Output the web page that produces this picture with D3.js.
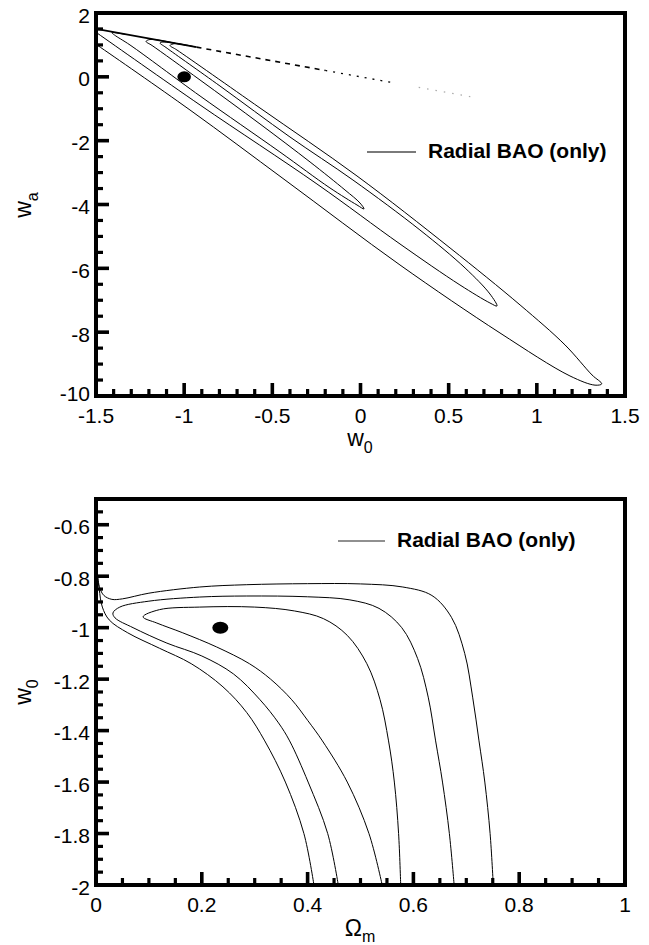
<!DOCTYPE html>
<html>
<head>
<meta charset="utf-8">
<script src="https://cdn.jsdelivr.net/npm/d3@7"></script>
<style>
  body { margin: 0; background: #fff; }
  svg { display: block; }
  text { font-family: "Liberation Sans", Arial, Helvetica, sans-serif; fill: #000; }
</style>
</head>
<body>
<svg id="fig" width="649" height="945"></svg>
<script>
// ---------- upper panel: w0 – wa plane ----------
const w0Ticks = [-1.5, -1, -0.5, 0, 0.5, 1, 1.5];
const w0TickLabels = ["-1.5", "-1", "-0.5", "0", "0.5", "1", "1.5"];
const waTicks = [-10, -8, -6, -4, -2, 0, 2];
const waTickLabels = ["-10", "-8", "-6", "-4", "-2", "0", "2"];

// fiducial model (w0, wa)
const fiducialWa = [-1, 0];

// confidence contours (w0, wa), innermost first
const waContour1 = [
  [-1.05, 1.051], [-1.194, 1.17], [-1.216, 1.107], [-1.182, 0.982],
  [-0.91, -0.099], [-0.57, -1.477], [-0.286, -2.668], [-0.088, -3.545],
  [-0.003, -3.952], [0.02, -4.14], [-0.02, -4.015],
  [-0.173, -3.482], [-0.457, -2.355], [-0.91, -0.6], [-1.307, 0.997],
  [-1.395, 1.31], [-1.41, 1.385], [-1.33, 1.325]
];
const waContour2 = [
  [-0.995, 0.995], [-1.114, 1.09], [-1.137, 1.06], [-1.103, 0.919],
  [-0.797, -0.287], [-0.4, -1.885], [-0.043, -3.232], [0.337, -4.798],
  [0.593, -5.989], [0.734, -6.803], [0.774, -7.18], [0.734, -7.085],
  [0.564, -6.521], [0.224, -5.237], [-0.247, -3.357], [-0.91, -0.882],
  [-1.494, 1.373], [-1.56, 1.63]
];
const waContour3 = [
  [-0.939, 0.939], [-1.052, 1.04], [-1.08, 0.982], [-1.041, 0.841],
  [-0.57, -0.976], [-0.02, -3.106], [0.508, -5.362], [0.905, -7.148],
  [1.16, -8.401], [1.313, -9.341], [1.368, -9.62], [1.33, -9.66],
  [1.188, -9.372], [0.791, -8.025], [0.224, -5.895], [-0.428, -3.232],
  [-0.967, -1.039], [-1.494, 0.997], [-1.562, 1.25]
];
// w0 + wa = 0 edge, w0 breakpoints of its pieces
const edgeW0 = [-1.5, -0.93, -0.2, 0.18, 0.33, 0.64];

// ---------- lower panel: Omega_m – w0 plane ----------
const omTicks = [0, 0.2, 0.4, 0.6, 0.8, 1];
const omTickLabels = ["0", "0.2", "0.4", "0.6", "0.8", "1"];
const w0LowTicks = [-2, -1.8, -1.6, -1.4, -1.2, -1, -0.8, -0.6];
const w0LowTickLabels = ["-2", "-1.8", "-1.6", "-1.4", "-1.2", "-1", "-0.8", "-0.6"];

const fiducialW0 = [0.235, -1.0];

const omContour1 = [
  [0.576, -2.0], [0.572, -1.8], [0.564, -1.6], [0.553, -1.44], [0.537, -1.28],
  [0.512, -1.14], [0.475, -1.03], [0.43, -0.965], [0.375, -0.935], [0.3, -0.92],
  [0.196, -0.92], [0.12, -0.93], [0.089, -0.958], [0.115, -0.982], [0.164, -1.02],
  [0.228, -1.075], [0.29, -1.14], [0.33, -1.2], [0.37, -1.28], [0.4, -1.36],
  [0.428, -1.44], [0.475, -1.6], [0.516, -1.8], [0.541, -2.0]
];
const omContour2 = [
  [0.677, -2.0], [0.668, -1.8], [0.655, -1.6], [0.642, -1.44], [0.628, -1.27],
  [0.608, -1.12], [0.578, -1.0], [0.535, -0.925], [0.48, -0.892], [0.4, -0.88],
  [0.285, -0.877], [0.196, -0.881], [0.1, -0.897], [0.045, -0.92], [0.032, -0.943],
  [0.036, -0.962], [0.07, -1.0], [0.134, -1.06], [0.2, -1.11], [0.26, -1.18],
  [0.31, -1.28], [0.345, -1.37], [0.366, -1.44], [0.401, -1.6], [0.438, -1.8], [0.458, -2.0]
];
const omContour3 = [
  [0.751, -2.0], [0.745, -1.8], [0.735, -1.6], [0.724, -1.44], [0.712, -1.27],
  [0.697, -1.1], [0.672, -0.96], [0.635, -0.875], [0.58, -0.842], [0.5, -0.83],
  [0.4, -0.829], [0.285, -0.833], [0.196, -0.842], [0.1, -0.866], [0.05, -0.888],
  [0.03, -0.89], [0.015, -0.875], [0.007, -0.845], [0.003, -0.8], [0.006, -0.85],
  [0.012, -0.92], [0.025, -0.97], [0.06, -1.02], [0.12, -1.08], [0.18, -1.14],
  [0.24, -1.23], [0.285, -1.33], [0.319, -1.44], [0.358, -1.6], [0.393, -1.8], [0.412, -2.0]
];

const legendLabel = "Radial BAO (only)";

// ---------- drawing ----------
const svg = d3.select("#fig");

function panel(opts) {
  const { id, xDomain, yDomain, box, xMajor, xLabels, xMinorStep,
          yMajor, yLabels, yMinorStep, lowestLabelLift = 0 } = opts;
  const x = d3.scaleLinear().domain(xDomain).range([box.left, box.right]);
  const y = d3.scaleLinear().domain(yDomain).range([box.bottom, box.top]);
  const g = svg.append("g");

  g.append("clipPath").attr("id", id)
    .append("rect")
    .attr("x", box.left).attr("y", box.top)
    .attr("width", box.right - box.left).attr("height", box.bottom - box.top);

  const plot = g.append("g").attr("clip-path", `url(#${id})`);

  // minor and major ticks pointing inward (left and bottom axes)
  const eps = 1e-9;
  const xMinor = d3.range(xDomain[0], xDomain[1] + eps, xMinorStep)
    .filter(v => !xMajor.some(m => Math.abs(m - v) < 1e-6));
  const yMinor = d3.range(yDomain[0], yDomain[1] + eps, yMinorStep)
    .filter(v => !yMajor.some(m => Math.abs(m - v) < 1e-6));
  const ticks = g.append("g").attr("stroke", "#000");
  ticks.selectAll(".xm").data(xMinor).join("line")
    .attr("x1", d => x(d)).attr("x2", d => x(d))
    .attr("y1", box.bottom).attr("y2", box.bottom - 7).attr("stroke-width", 3.2);
  ticks.selectAll(".xM").data(xMajor).join("line")
    .attr("x1", d => x(d)).attr("x2", d => x(d))
    .attr("y1", box.bottom).attr("y2", box.bottom - 13).attr("stroke-width", 3.6);
  ticks.selectAll(".ym").data(yMinor).join("line")
    .attr("y1", d => y(d)).attr("y2", d => y(d))
    .attr("x1", box.left).attr("x2", box.left + 7).attr("stroke-width", 3.2);
  ticks.selectAll(".yM").data(yMajor).join("line")
    .attr("y1", d => y(d)).attr("y2", d => y(d))
    .attr("x1", box.left).attr("x2", box.left + 13).attr("stroke-width", 3.6);

  // tick labels
  g.append("g").selectAll("text").data(xMajor).join("text")
    .attr("x", d => x(d)).attr("y", box.bottom + 27)
    .attr("text-anchor", "middle").attr("font-size", 21)
    .text((d, i) => xLabels[i]);
  g.append("g").selectAll("text").data(yMajor).join("text")
    .attr("x", box.left - 6).attr("y", (d, i) => y(d) + 9.5 - (i === 0 ? lowestLabelLift : 0))
    .attr("text-anchor", "end").attr("font-size", 21)
    .text((d, i) => yLabels[i]);

  // frame
  g.append("rect")
    .attr("x", box.left).attr("y", box.top)
    .attr("width", box.right - box.left).attr("height", box.bottom - box.top)
    .attr("fill", "none").attr("stroke", "#000").attr("stroke-width", 4);

  return { x, y, g, plot };
}

const curve = d3.curveCatmullRom.alpha(0.5);

// upper panel
const upperPanel = panel({
  id: "clipUpper",
  xDomain: [-1.5, 1.5], yDomain: [-10, 2],
  box: { left: 96, right: 625, top: 13, bottom: 396 },
  xMajor: w0Ticks, xLabels: w0TickLabels, xMinorStep: 0.1,
  yMajor: waTicks, yLabels: waTickLabels, yMinorStep: 0.5,
  lowestLabelLift: 5
});
{
  const { x, y, g, plot } = upperPanel;
  const line = d3.line().x(d => x(d[0])).y(d => y(d[1])).curve(curve);
  [waContour1, waContour2, waContour3].forEach(c => {
    plot.append("path").attr("d", line(c))
      .attr("fill", "none").attr("stroke", "#000").attr("stroke-width", 1);
  });
  // pile-up of contour lines along the w0 + wa = 0 edge
  const edge = d3.line().x(d => x(d)).y(d => y(-d));
  const edgeStyles = [
    { w: 1.8, dash: null, col: "#000" },
    { w: 1.6, dash: "5,5", col: "#000" },
    { w: 1.3, dash: "2,6", col: "#000" },
    null,
    { w: 1.2, dash: "1.5,7", col: "#aaa" }
  ];
  edgeStyles.forEach((s, i) => {
    if (!s) return;
    plot.append("path").attr("d", edge([edgeW0[i], edgeW0[i + 1]]))
      .attr("fill", "none").attr("stroke", s.col).attr("stroke-width", s.w)
      .attr("stroke-dasharray", s.dash);
  });
  plot.append("ellipse")
    .attr("cx", x(fiducialWa[0])).attr("cy", y(fiducialWa[1]))
    .attr("rx", 6.8).attr("ry", 5.5).attr("fill", "#000");

  // legend
  g.append("line").attr("x1", 367).attr("x2", 416).attr("y1", 152).attr("y2", 152)
    .attr("stroke", "#7a7a7a").attr("stroke-width", 2);
  g.append("text").attr("x", 428).attr("y", 158).attr("font-size", 21)
    .attr("font-weight", "bold").text(legendLabel);

  // axis titles
  const xt = g.append("text").attr("x", 360).attr("y", 446)
    .attr("text-anchor", "middle").attr("font-size", 23);
  xt.append("tspan").text("w");
  xt.append("tspan").attr("dy", 7).attr("font-size", 16).text("0");
  const yt = g.append("text").attr("transform", "translate(31,205) rotate(-90)")
    .attr("text-anchor", "middle").attr("font-size", 23);
  yt.append("tspan").text("w");
  yt.append("tspan").attr("dy", 7).attr("font-size", 16).text("a");
}

// lower panel
const lowerPanel = panel({
  id: "clipLower",
  xDomain: [0, 1], yDomain: [-2, -0.5],
  box: { left: 96, right: 625, top: 499, bottom: 885 },
  xMajor: omTicks, xLabels: omTickLabels, xMinorStep: 0.05,
  yMajor: w0LowTicks, yLabels: w0LowTickLabels, yMinorStep: 0.05
});
{
  const { x, y, g, plot } = lowerPanel;
  const line = d3.line().x(d => x(d[0])).y(d => y(d[1])).curve(curve);
  [omContour1, omContour2, omContour3].forEach(c => {
    plot.append("path").attr("d", line(c))
      .attr("fill", "none").attr("stroke", "#000").attr("stroke-width", 1);
  });
  plot.append("ellipse")
    .attr("cx", x(fiducialW0[0])).attr("cy", y(fiducialW0[1]))
    .attr("rx", 8).attr("ry", 6).attr("fill", "#000");

  g.append("line").attr("x1", 338).attr("x2", 385).attr("y1", 541).attr("y2", 541)
    .attr("stroke", "#222").attr("stroke-width", 1.2);
  g.append("text").attr("x", 397).attr("y", 547).attr("font-size", 21)
    .attr("font-weight", "bold").text(legendLabel);

  const xt = g.append("text").attr("x", 360).attr("y", 936)
    .attr("text-anchor", "middle").attr("font-size", 23);
  xt.append("tspan").text("Ω");
  xt.append("tspan").attr("dy", 6).attr("font-size", 16).text("m");
  const yt = g.append("text").attr("transform", "translate(31,692) rotate(-90)")
    .attr("text-anchor", "middle").attr("font-size", 23);
  yt.append("tspan").text("w");
  yt.append("tspan").attr("dy", 7).attr("font-size", 16).text("0");
}
</script>
</body>
</html>
